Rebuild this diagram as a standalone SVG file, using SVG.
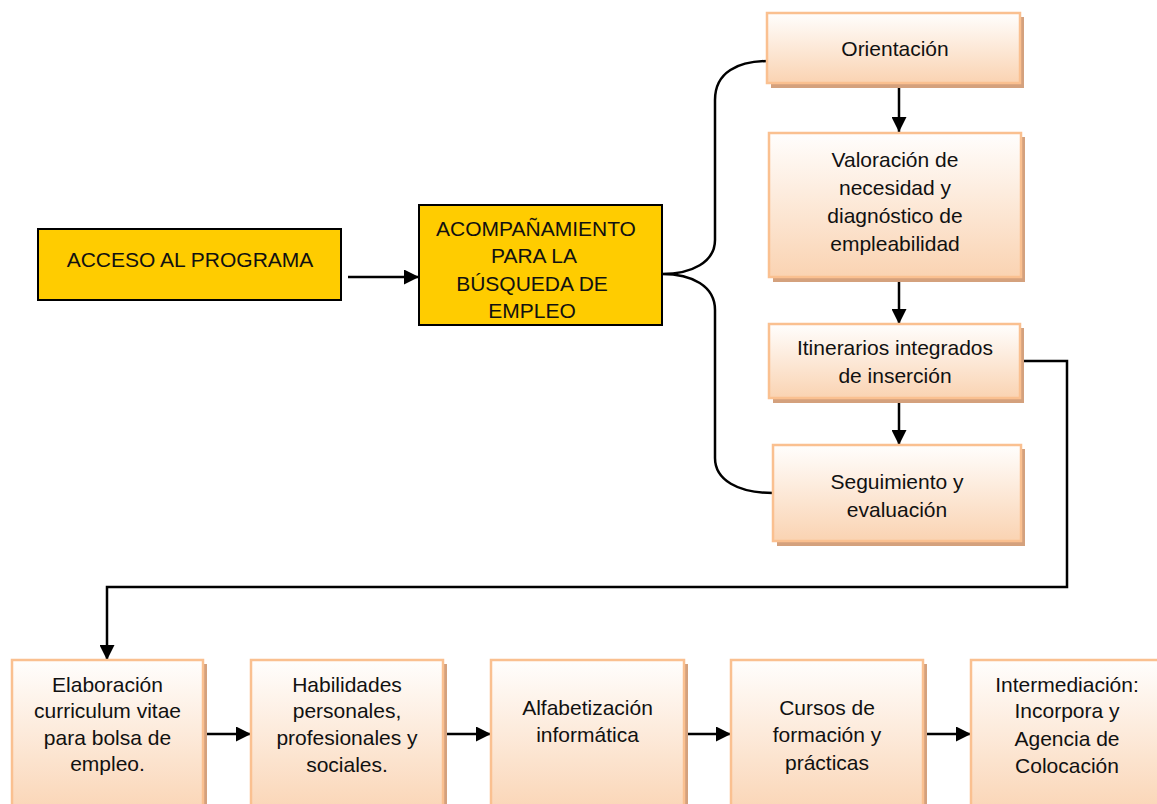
<svg xmlns="http://www.w3.org/2000/svg" width="1157" height="804" viewBox="0 0 1157 804">
<defs>
<linearGradient id="peach" x1="0" y1="0" x2="0" y2="1">
<stop offset="0" stop-color="#fffefd"/>
<stop offset="1" stop-color="#fad3b2"/>
</linearGradient>
<marker id="ah" markerUnits="userSpaceOnUse" markerWidth="15" markerHeight="15" viewBox="0 0 15 15" refX="15" refY="7.5" orient="auto">
<path d="M0,0 L15,7.5 L0,15 z" fill="#000"/>
</marker>
<style>
.shadow{fill:#d4a17d}
.box{fill:url(#peach);stroke:#fac090;stroke-width:2.5}
.ybox{fill:#ffcc00;stroke:#000;stroke-width:2}
text{font-family:"Liberation Sans",Arial,sans-serif;font-size:21px;fill:#111;text-anchor:middle}
.con{fill:none;stroke:#000;stroke-width:2.5}
</style>
</defs>
<rect width="1157" height="804" fill="#fff"/>

<g id="connectors">
<path class="con" d="M348,277 L419,277" marker-end="url(#ah)"/>
<path class="con" d="M769,61 C738,61 715,72 715,100 L715,240 C715,262 692,274 662,274 C692,274 715,286 715,310 L715,458 C715,480 738,493 773,493"/>
<path class="con" d="M899,85 L899,132" marker-end="url(#ah)"/>
<path class="con" d="M899,279 L899,324" marker-end="url(#ah)"/>
<path class="con" d="M899,400 L899,445" marker-end="url(#ah)"/>
<path class="con" d="M1020,361 L1067,361 L1067,587 L107,587 L107,660" marker-end="url(#ah)"/>
<path class="con" d="M204,734 L251,734" marker-end="url(#ah)"/>
<path class="con" d="M444,734 L491,734" marker-end="url(#ah)"/>
<path class="con" d="M685,734 L731,734" marker-end="url(#ah)"/>
<path class="con" d="M924,734 L971,734" marker-end="url(#ah)"/>
</g>

<g id="acceso">
<rect class="ybox" x="38" y="229" width="303" height="71"/>
<text x="190" y="267">ACCESO AL PROGRAMA</text>
</g>

<g id="acompanamiento">
<rect class="ybox" x="419" y="205" width="243" height="120"/>
<text x="536" y="236">ACOMPAÑAMIENTO</text>
<text x="534" y="263">PARA LA</text>
<text x="532" y="291">BÚSQUEDA DE</text>
<text x="532" y="318">EMPLEO</text>
</g>

<g id="orientacion">
<rect class="shadow" x="771" y="17" width="253" height="71"/>
<rect class="box" x="767" y="13" width="253" height="70"/>
<text x="895" y="56">Orientación</text>
</g>

<g id="valoracion">
<rect class="shadow" x="773" y="137" width="252" height="145"/>
<rect class="box" x="769" y="133" width="252" height="144"/>
<text x="895" y="167">Valoración de</text>
<text x="895" y="195">necesidad y</text>
<text x="895" y="223">diagnóstico de</text>
<text x="895" y="251">empleabilidad</text>
</g>

<g id="itinerarios">
<rect class="shadow" x="773" y="328" width="251" height="75"/>
<rect class="box" x="769" y="324" width="251" height="74"/>
<text x="895" y="355">Itinerarios integrados</text>
<text x="895" y="383">de inserción</text>
</g>

<g id="seguimiento">
<rect class="shadow" x="777" y="449" width="248" height="97"/>
<rect class="box" x="773" y="445" width="248" height="96"/>
<text x="897" y="489">Seguimiento y</text>
<text x="897" y="517">evaluación</text>
</g>

<g id="elaboracion">
<rect class="shadow" x="16" y="664" width="191" height="160"/>
<rect class="box" x="12" y="660" width="191" height="160"/>
<text x="107.5" y="692">Elaboración</text>
<text x="107.5" y="718">curriculum vitae</text>
<text x="107.5" y="745">para bolsa de</text>
<text x="107.5" y="771">empleo.</text>
</g>

<g id="habilidades">
<rect class="shadow" x="255" y="664" width="192" height="160"/>
<rect class="box" x="251" y="660" width="192" height="160"/>
<text x="347" y="692">Habilidades</text>
<text x="347" y="718">personales,</text>
<text x="347" y="745">profesionales y</text>
<text x="347" y="772">sociales.</text>
</g>

<g id="alfabetizacion">
<rect class="shadow" x="495" y="664" width="193" height="160"/>
<rect class="box" x="491" y="660" width="193" height="160"/>
<text x="587.5" y="715">Alfabetización</text>
<text x="587.5" y="742">informática</text>
</g>

<g id="cursos">
<rect class="shadow" x="735" y="664" width="192" height="160"/>
<rect class="box" x="731" y="660" width="192" height="160"/>
<text x="827" y="715">Cursos de</text>
<text x="827" y="742">formación y</text>
<text x="827" y="770">prácticas</text>
</g>

<g id="intermediacion">
<rect class="shadow" x="975" y="664" width="192" height="160"/>
<rect class="box" x="971" y="660" width="192" height="160"/>
<text x="1067" y="692">Intermediación:</text>
<text x="1067" y="718">Incorpora y</text>
<text x="1067" y="746">Agencia de</text>
<text x="1067" y="773">Colocación</text>
</g>
</svg>
